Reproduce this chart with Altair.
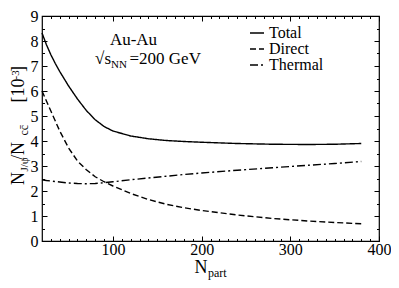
import altair as alt
import pandas as pd

# ---- data ----
n_part = [20, 25, 30, 35, 40, 50, 60, 70, 80, 90, 100, 120, 140, 160, 180, 200, 240, 280, 320, 350, 380]
total = [8.32, 7.85, 7.45, 7.1, 6.78, 6.2, 5.68, 5.22, 4.85, 4.58, 4.4, 4.2, 4.09, 4.02, 3.98, 3.95, 3.9, 3.87, 3.86, 3.87, 3.9]
direct = [6.0, 5.6, 5.2, 4.8, 4.4, 3.72, 3.2, 2.85, 2.57, 2.37, 2.2, 1.9, 1.66, 1.47, 1.33, 1.22, 1.04, 0.9, 0.8, 0.74, 0.69]
thermal = [2.45, 2.42, 2.4, 2.38, 2.36, 2.32, 2.3, 2.29, 2.3, 2.33, 2.37, 2.45, 2.52, 2.59, 2.66, 2.72, 2.83, 2.93, 3.03, 3.1, 3.18]
series_names = ["Total", "Direct", "Thermal"]
x_major = [100, 200, 300, 400]
x_minor = [v for v in range(30, 400, 10) if v % 100 != 0]
y_major = [0, 1, 2, 3, 4, 5, 6, 7, 8, 9]
y_minor = [0.5, 1.5, 2.5, 3.5, 4.5, 5.5, 6.5, 7.5, 8.5]

rows = []
for name, vals in zip(series_names, [total, direct, thermal]):
    for n, v in zip(n_part, vals):
        rows.append({"N": n, "value": v, "series": name})
df = pd.DataFrame(rows)

FONT = "Liberation Serif, Times New Roman, serif"
W, H = 337, 225

# legend placement (plot coordinates)
LEG_X, LEG_Y, LEG_ROW = 207, 9, 16

xs = alt.Scale(domain=[20, 400], nice=False, zero=False)
ys = alt.Scale(domain=[0, 9], nice=False, zero=False)


def axis(orient, values, size, labels=False):
    kw = dict(orient=orient, values=values, tickSize=size, offset=-size, domain=False,
              grid=False, title=None, tickColor="black", tickWidth=1, labels=labels)
    if labels:
        kw.update(labelFont=FONT, labelFontSize=16, labelColor="black",
                  labelFlush=False, labelOverlap=False,
                  labelPadding=0 if orient in ("bottom", "top") else 4)
    return alt.Axis(**kw)


lines = alt.Chart(df).mark_line(color="black", strokeWidth=1.4).encode(
    x=alt.X("N:Q", scale=xs, axis=axis("bottom", x_major, 5, labels=True)),
    y=alt.Y("value:Q", scale=ys, axis=axis("left", y_major, 5, labels=True)),
    strokeDash=alt.StrokeDash(
        "series:N",
        scale=alt.Scale(domain=series_names, range=[[1, 0], [6, 3], [8, 3, 2, 3]]),
        sort=series_names,
        legend=alt.Legend(
            title=None, orient="none", legendX=LEG_X, legendY=LEG_Y, padding=0,
            labelFontSize=1, labelOpacity=0, labelOffset=0,
            symbolType="stroke", symbolSize=196, symbolStrokeWidth=1.4,
            symbolStrokeColor="black", rowPadding=0, clipHeight=LEG_ROW,
        ),
    ),
)


def ghost(xax, yax):
    return alt.Chart(df).mark_line(opacity=0).encode(
        x=alt.X("N:Q", scale=xs, axis=xax),
        y=alt.Y("value:Q", scale=ys, axis=yax),
        detail="series:N",
    )


g1 = ghost(axis("top", x_major, 5), axis("right", y_major, 5))
g2 = ghost(axis("bottom", x_minor, 2.5), axis("left", y_minor, 2.5))
g3 = ghost(axis("top", x_minor, 2.5), axis("right", y_minor, 2.5))

# ---- text pieces (titles, annotation, legend labels) ----
texts = [
    # text, size, x, y, angle, align, baseline
    ("N", 18, -18, 169, 270, "left", "alphabetic"),
    ("J/ψ", 11, -14, 155.5, 270, "left", "alphabetic"),
    ("/N", 18, -18, 144, 270, "left", "alphabetic"),
    ("cc\u0304", 12, -14, 119.5, 270, "left", "alphabetic"),
    ("[10", 18, -18, 86.5, 270, "left", "alphabetic"),
    ("-3", 11, -23, 63.5, 270, "left", "alphabetic"),
    ("]", 18, -18, 56, 270, "left", "alphabetic"),
    ("N", 18, 152.5, 257, 0, "left", "alphabetic"),
    ("part", 12, 166, 261, 0, "left", "alphabetic"),
    ("Au-Au", 17, 91.5, 29, 0, "center", "alphabetic"),
    ("√s", 17, 69, 48, 0, "right", "alphabetic"),
    ("NN", 11, 69, 52, 0, "left", "alphabetic"),
    ("=200 GeV", 17, 87.5, 48, 0, "left", "alphabetic"),
]
for i, name in enumerate(series_names):
    texts.append((name, 16, LEG_X + 20, LEG_Y + LEG_ROW / 2 + i * LEG_ROW, 0, "left", "middle"))

text_layers = []
for t, size, tx, ty, ang, al, bl in texts:
    text_layers.append(
        alt.Chart(pd.DataFrame({"t": [t]})).mark_text(
            font=FONT, fontSize=size, color="black", align=al,
            baseline=bl, angle=ang,
        ).encode(text="t:N", x=alt.value(tx), y=alt.value(ty))
    )

chart = (
    alt.layer(lines, g1, g2, g3, *text_layers)
    .resolve_axis(x="independent", y="independent")
    .properties(width=W, height=H, autosize="none",
                padding={"left": 34, "top": 8, "right": 12, "bottom": 39})
    .configure(font=FONT)
    .configure_view(stroke="black", strokeWidth=1.2)
)

chart.save("out.html", embed_options={"renderer": "svg", "actions": False})
